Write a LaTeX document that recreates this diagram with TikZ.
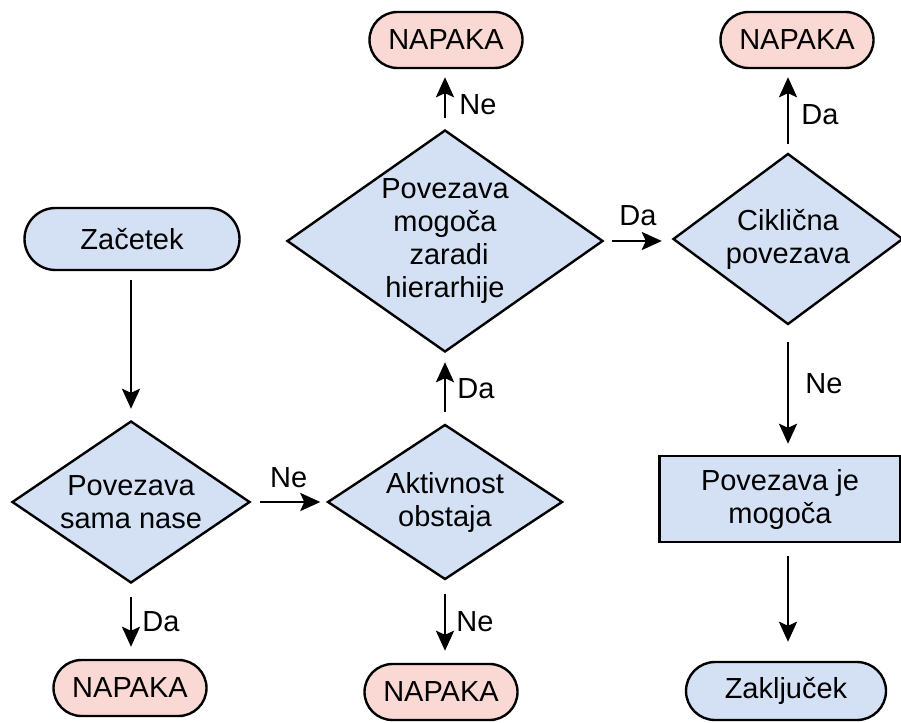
\documentclass[tikz,border=0pt]{standalone}
\usepackage{fontspec}
\setmainfont{Liberation Sans}
\usetikzlibrary{shapes.geometric,arrows.meta}
\definecolor{stepfill}{HTML}{D4E1F5}
\definecolor{errfill}{HTML}{FAD9D5}
\begin{document}
\begin{tikzpicture}[x=1pt,y=-1pt,
  font=\fontsize{29}{33}\selectfont,
  shapeline/.style={draw=black, line width=2.4pt},
  pillbox/.style={shapeline, rectangle, rounded corners=28pt, inner sep=0pt, align=center},
  startbox/.style={pillbox, fill=stepfill},
  errbox/.style={pillbox, fill=errfill, minimum width=153pt, minimum height=56pt},
  decision/.style={shapeline, diamond, fill=stepfill, inner sep=0pt},
  procbox/.style={shapeline, rectangle, fill=stepfill, inner sep=0pt, align=center},
  txt/.style={align=center, inner sep=0pt},
  flow/.style={line width=2.8pt, -{Stealth[length=20pt,width=18pt,inset=4pt]}},
  lbl/.style={inner sep=0pt}
]
\useasboundingbox (0,0) rectangle (901,722);
\clip (0,0) rectangle (901,722);

% terminals and steps
\node[startbox, minimum width=215pt, minimum height=62pt, rounded corners=31pt] (start) at (132,239) {Začetek};
\node[decision, minimum width=238pt, minimum height=162pt] (d1) at (131,502) {};
\node[txt] at (d1) {Povezava\\sama nase};
\node[errbox] (e1) at (130,688) {NAPAKA};

\node[decision, minimum width=235pt, minimum height=155pt] (d2) at (445,502) {};
\node[txt] at (d2) {Aktivnost\\obstaja};
\node[errbox] (e2) at (441,692) {NAPAKA};

\node[decision, minimum width=316pt, minimum height=222pt] (d3) at (445,241) {};
\node[txt] at (d3) {Povezava\\mogoča\\\hspace*{8pt}zaradi\\hierarhije};
\node[errbox] (e3) at (446,40) {NAPAKA};

\node[decision, minimum width=230pt, minimum height=171pt] (d4) at (788,239) {};
\node[txt] at (d4) {Ciklična\\povezava};
\node[errbox] (e4) at (797,40) {NAPAKA};

\node[procbox, minimum width=241pt, minimum height=86pt] (ok) at (780,499) {Povezava je\\mogoča};
\node[startbox, minimum width=200pt, minimum height=58pt, rounded corners=29pt] (end) at (786,691) {Zaključek};

% connectors
\draw[flow, shorten <=9pt, shorten >=11pt] (start.south -| d1.north) -- (d1.north);
\draw[flow, shorten <=13pt, shorten >=12pt] (d1.south) -- (d1.south |- e1.north)
  node[lbl, midway, right=10pt] {Da};
\draw[flow, shorten <=9pt, shorten >=6pt] (d1.east) -- (d1.east -| d2.west)
  node[lbl, midway, above=13pt] {Ne};
\draw[flow, shorten <=13pt, shorten >=12pt] (d2.south) -- (d2.south |- e2.north)
  node[lbl, midway, right=10pt] {Ne};
\draw[flow, shorten <=11pt, shorten >=9pt] (d2.north) -- (d3.south)
  node[lbl, midway, right=11pt] {Da};
\draw[flow, shorten <=11pt, shorten >=8pt] (d3.north) -- (d3.north |- e3.south)
  node[lbl, pos=0.4, right=13pt] {Ne};
\draw[flow, shorten <=8pt, shorten >=10pt] (d3.east) -- (d3.east -| d4.west)
  node[lbl, midway, above=14pt] {Da};
\draw[flow, shorten <=8pt, shorten >=8pt] (d4.north) -- (d4.north |- e4.south)
  node[lbl, pos=0.45, right=12pt] {Da};
\draw[flow, shorten <=16pt, shorten >=11pt] (d4.south) -- (d4.south |- ok.north)
  node[lbl, pos=0.45, right=16pt] {Ne};
\draw[flow, shorten <=13pt, shorten >=19pt] (d4.south |- ok.south) -- (d4.south |- end.north);
\end{tikzpicture}
\end{document}
